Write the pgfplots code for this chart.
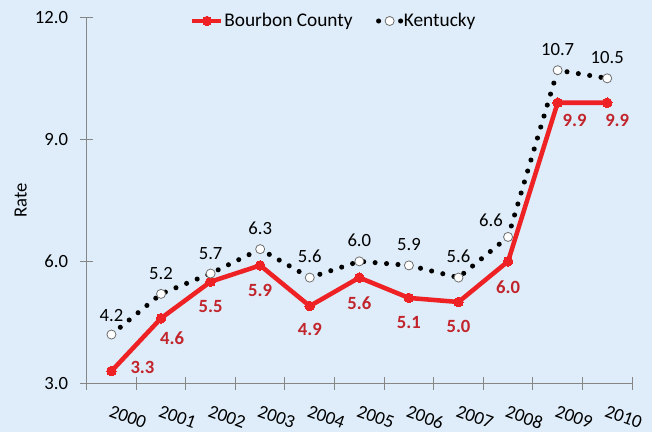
\documentclass[border=0pt]{standalone}
\usepackage{fontspec}
\setmainfont{Carlito}
\usepackage{pgfplots}
\pgfplotsset{compat=1.18}
\usepackage{pgfplotstable}
\definecolor{bg}{RGB}{222,237,249}
\definecolor{redline}{RGB}{238,34,36}
\definecolor{redlab}{RGB}{194,36,44}
\definecolor{axgray}{RGB}{134,134,134}
\definecolor{mkgray}{RGB}{110,110,110}

\pgfplotsset{
  redleg/.style={legend image code/.code={\draw[##1, mark repeat=2, mark phase=2] plot coordinates {(0pt,0pt) (10.9pt,0pt) (21.75pt,0pt)};}},
  kyleg/.style={legend image code/.code={\draw[##1, dash pattern=on 0pt off 8.25pt, mark repeat=2, mark phase=2] plot coordinates {(0pt,0pt) (8.25pt,0pt) (16.5pt,0pt)};}},
}

\pgfplotstableread{
x y dx dy
0 3.3 23.25 -1.4
1 4.6 8.25 -19.4
2 5.5 0 -23.4
3 5.9 0 -23.15
4 4.9 0 -21.9
5 5.6 0 -23.6
6 5.1 0 -23.15
7 5.0 0 -23.15
8 6.0 0 -23.9
9 9.9 12.75 -17.9
10 9.9 7.5 -17.9
}\bourbon

\pgfplotstableread{
x y dx dy
0 4.2 0 10.1
1 5.2 0 11.1
2 5.7 0 10.2
3 6.3 0 11.35
4 5.6 0 11.35
5 6.0 0 11.35
6 5.9 0 11.35
7 5.6 0 11.05
8 6.6 -12.75 8.05
9 10.7 0 11.1
10 10.5 0 11.1
}\kentucky

\begin{document}
\fontsize{14}{17}\selectfont
\begin{tikzpicture}
\fill[bg] (-65pt,-36.5pt) rectangle (424pt,287.5pt);
\useasboundingbox (-65pt,-36.5pt) rectangle (424pt,287.5pt);
\begin{axis}[
  at={(0,0)}, anchor=south west,
  scale only axis, width=409pt, height=274.5pt,
  xmin=-0.5, xmax=10.5, ymin=3, ymax=12,
  axis lines=left,
  axis line style={-, draw=axgray, line width=0.75pt},
  xtick={-0.5,0.5,...,10.5},
  xticklabels={2000,2001,2002,2003,2004,2005,2006,2007,2008,2009,2010,{}},
  ytick={3,6,9,12},
  tick align=center,
  major tick length=9.6pt,
  tick style={draw=axgray, line width=0.75pt},
  /pgf/number format/assume math mode=true,
  yticklabel={\pgfmathprintnumber[fixed,fixed zerofill,precision=1]{\tick}},
  yticklabel style={inner sep=0pt, anchor=east, xshift=-9pt, text=black},
  xticklabel style={inner sep=0pt, xshift=19pt, yshift=-11pt, rotate=-20, anchor=north west, text=black},
  ylabel={Rate},
  ylabel style={at={(axis description cs:-0.121,0.5)}, anchor=center},
  legend style={at={(0.452,0.99)}, anchor=center, draw=none, fill=none,
    legend columns=-1, /tikz/every even column/.append style={column sep=17pt},
    nodes={inner sep=0.5pt}, font=\fontsize{14.5}{17}\selectfont},
  nodes near coords={\pgfmathprintnumber[fixed,fixed zerofill,precision=1]{\pgfplotspointmeta}},
  point meta=y,
  visualization depends on={\thisrow{dx} \as \mydx},
  visualization depends on={\thisrow{dy} \as \mydy},
  clip=false,
]
\addplot[color=redline, line width=3.4pt, mark=*, mark size=3.6pt,
  mark options={fill=redline, draw=redline, line width=0pt},
  nodes near coords style={anchor=base, inner sep=0pt, xshift=\mydx pt, yshift=\mydy pt, text=redlab, font=\bfseries},
  redleg
] table[x=x,y=y] {\bourbon};
\addlegendentry{Bourbon County}
\addplot[color=black, line width=3.8pt, dash pattern=on 0pt off 8.6pt, line cap=round,
  mark=*, mark size=3.4pt,
  mark options={solid, fill=white, draw=mkgray, line width=0.6pt},
  nodes near coords style={anchor=base, inner sep=0pt, xshift=\mydx pt, yshift=\mydy pt, text=black},
  kyleg
] table[x=x,y=y] {\kentucky};
\addlegendentry{Kentucky}
\end{axis}
\end{tikzpicture}
\end{document}
